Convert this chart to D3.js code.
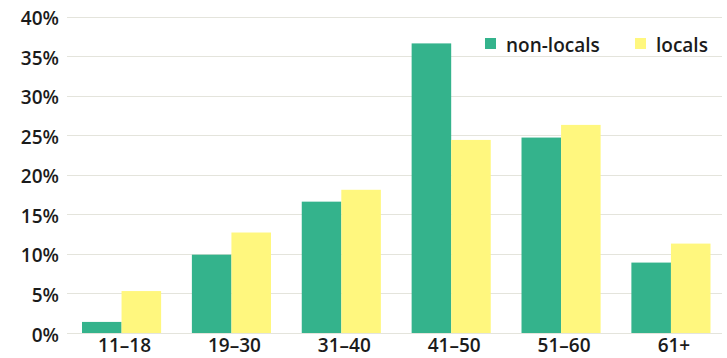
<!DOCTYPE html>
<html>
<head>
<meta charset="utf-8">
<script src="https://cdn.jsdelivr.net/npm/d3@7"></script>
<style>
  html, body { margin: 0; padding: 0; background: #ffffff; }
  svg { display: block; }
  text { font-family: "Open Sans", "Noto Sans", sans-serif; font-weight: 600; fill: #1b1b1b; }
</style>
</head>
<body>
<svg id="chart" width="727" height="358"></svg>
<script>
// Age groups and share of visitors (%) in each group
const categories = ["11–18", "19–30", "31–40", "41–50", "51–60", "61+"];
const nonLocals = [1.4, 9.9, 16.6, 36.6, 24.7, 8.9];
const locals    = [5.3, 12.7, 18.1, 24.4, 26.3, 11.3];
const seriesNames = ["non-locals", "locals"];
const seriesColors = ["#34b38c", "#fff77e"];
const yTicks = [0, 5, 10, 15, 20, 25, 30, 35, 40];

const svg = d3.select("#chart");

const y = d3.scaleLinear().domain([0, 40]).range([333, 16.5]);
const x0 = d3.scaleBand().domain(categories).range([82, 710.5]).paddingInner(0.28).paddingOuter(0);
const x1 = d3.scaleBand().domain(seriesNames).range([0, x0.bandwidth()]).padding(0);

// horizontal gridlines
svg.append("g")
  .selectAll("line")
  .data(yTicks)
  .join("line")
  .attr("x1", 67).attr("x2", 722)
  .attr("y1", d => Math.round(y(d)) + 0.5)
  .attr("y2", d => Math.round(y(d)) + 0.5)
  .attr("stroke", "#e4e4dc")
  .attr("stroke-width", 1);

// y axis labels
const yAxis = d3.axisLeft(y).tickValues(yTicks).tickFormat(d => d + "%").tickSize(0).tickPadding(0);
const gy = svg.append("g").attr("transform", "translate(59,2)").call(yAxis);
gy.select(".domain").remove();
gy.selectAll("text").attr("font-size", 19).style("font-family", "'Open Sans', sans-serif").attr("fill", "#1b1b1b");

// bars
const rows = categories.map((c, i) => ({ cat: c, vals: [nonLocals[i], locals[i]] }));
const groups = svg.append("g")
  .selectAll("g")
  .data(rows)
  .join("g")
  .attr("transform", d => `translate(${x0(d.cat)},0)`);

groups.selectAll("rect")
  .data(d => d.vals.map((v, j) => ({ key: seriesNames[j], v, j })))
  .join("rect")
  .attr("x", d => x1(d.key))
  .attr("width", x1.bandwidth())
  .attr("y", d => y(d.v))
  .attr("height", d => y(0) - y(d.v))
  .attr("fill", d => seriesColors[d.j]);

// x axis labels
const xAxis = d3.axisBottom(x0).tickSize(0).tickPadding(0);
const gx = svg.append("g").attr("transform", "translate(3,337.5)").call(xAxis);
gx.select(".domain").remove();
gx.selectAll("text").attr("font-size", 19).attr("dy", "0.75em").style("font-family", "'Open Sans', sans-serif").attr("fill", "#1b1b1b");

// legend
const legendX = [485, 635];
const legend = svg.append("g");
seriesNames.forEach((name, i) => {
  legend.append("rect")
    .attr("x", legendX[i]).attr("y", 38)
    .attr("width", 11).attr("height", 11)
    .attr("fill", seriesColors[i]);
  legend.append("text")
    .attr("x", legendX[i] + 21).attr("y", 52)
    .attr("font-size", 19)
    .text(name);
});
</script>
</body>
</html>
